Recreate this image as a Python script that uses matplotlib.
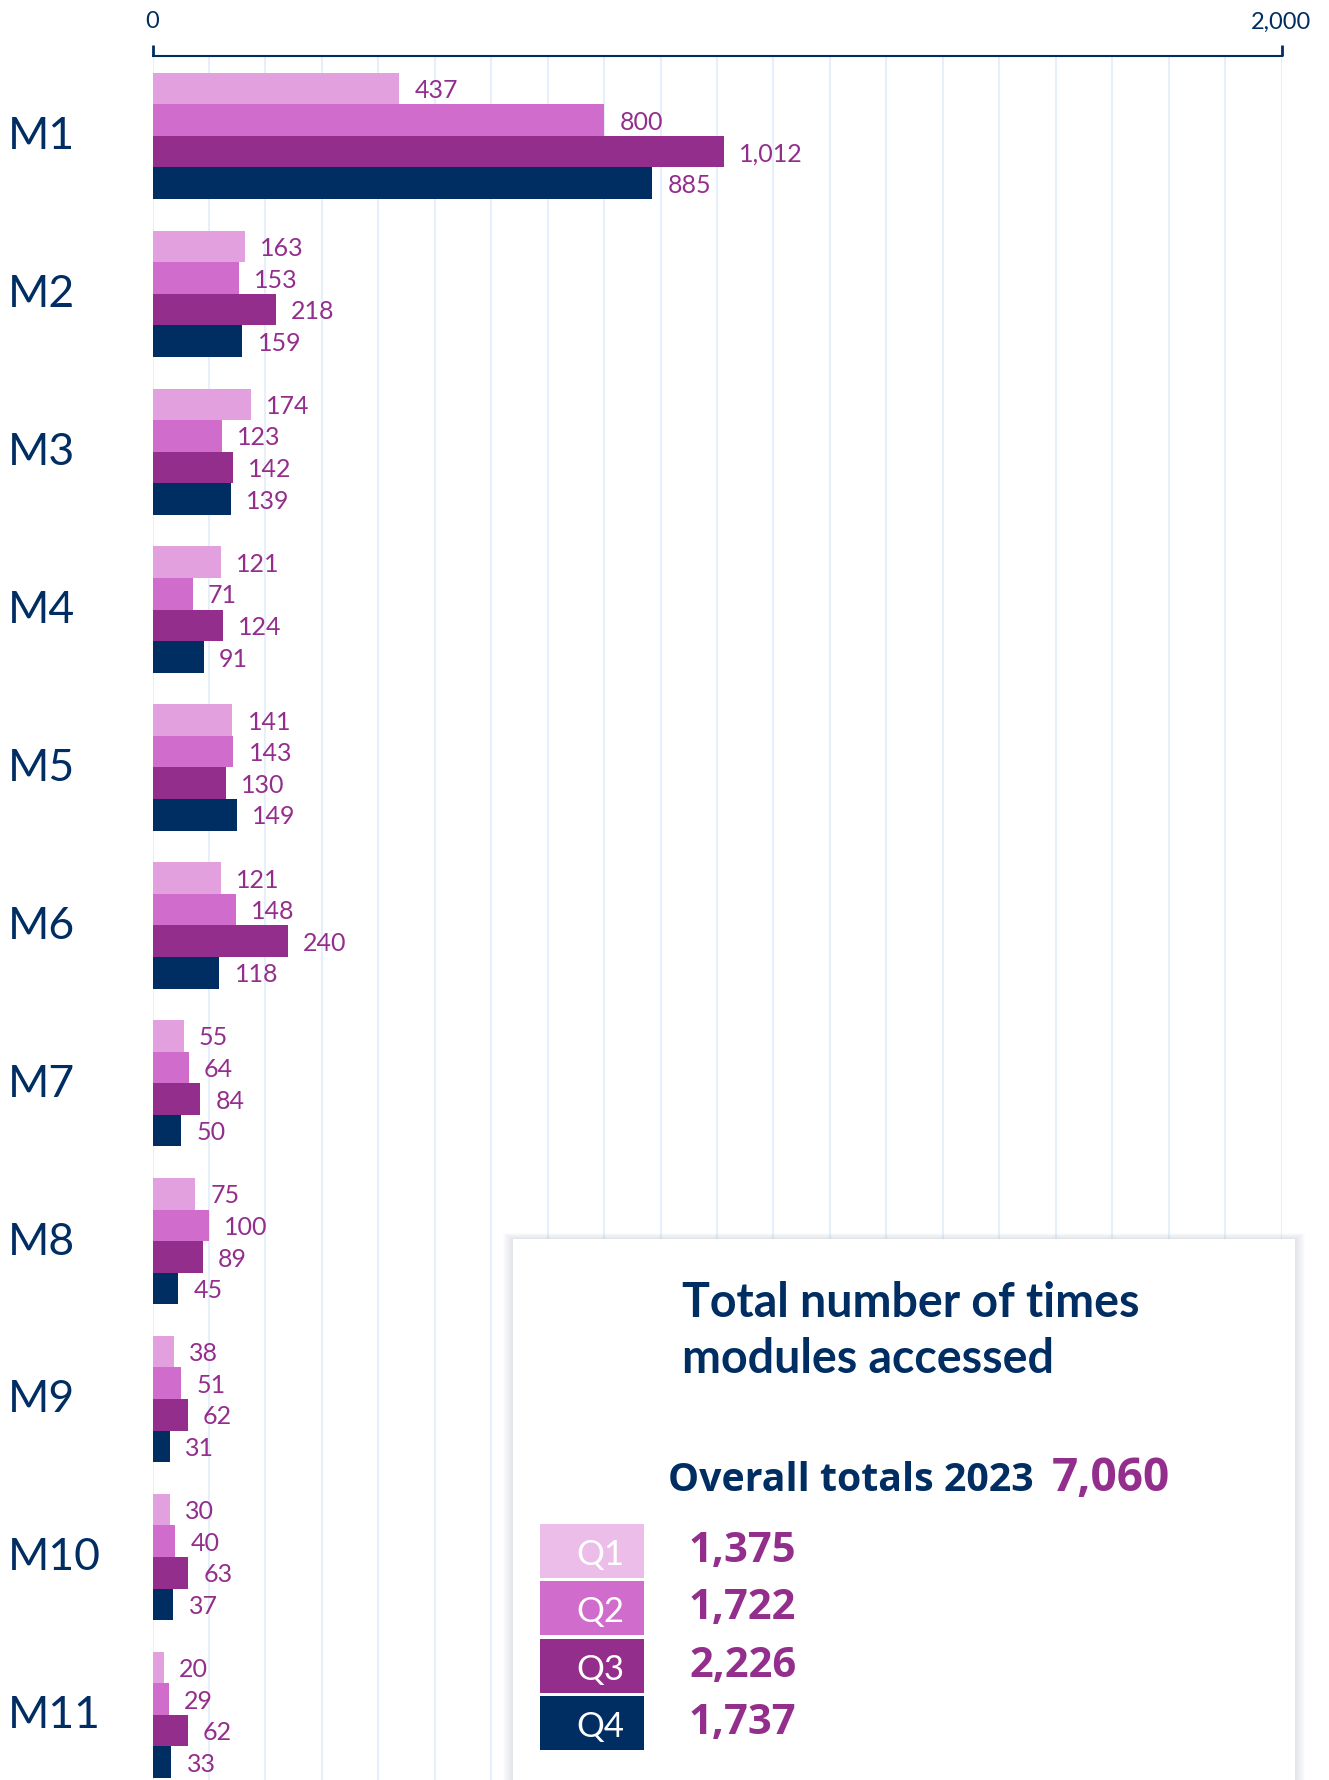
import numpy as np
import matplotlib.pyplot as plt
from matplotlib.patches import Rectangle

# Data
modules = ['M1', 'M2', 'M3', 'M4', 'M5', 'M6', 'M7', 'M8', 'M9', 'M10', 'M11']
quarters = ['Q1', 'Q2', 'Q3', 'Q4']
q1 = [437, 163, 174, 121, 141, 121, 55, 75, 38, 30, 20]
q2 = [800, 153, 123, 71, 143, 148, 64, 100, 51, 40, 29]
q3 = [1012, 218, 142, 124, 130, 240, 84, 89, 62, 63, 62]
q4 = [885, 159, 139, 91, 149, 118, 50, 45, 31, 37, 33]
xticks = [0, 2000]
xticklabels = ['0', '2,000']
year = 2023

# Colours
bar_colors = ['#e3a0de', '#d06ccc', '#942e8c', '#002d62']
legend_colors = ['#ecbde9', '#d06ccc', '#942e8c', '#002d62']
navy = '#002d62'
purple = '#942e8c'
grid_color = '#e6effa'

series = [q1, q2, q3, q4]
totals = [sum(s) for s in series]
overall = sum(totals)

W, H = 1329, 1780
fig = plt.figure(figsize=(W / 100, H / 100), dpi=100)

# Main bar axes (pixel placement from the reference)
ax_left, ax_right, ax_top = 152.6, 1281.5, 56
ax = fig.add_axes([ax_left / W, 0, (ax_right - ax_left) / W, (H - ax_top) / H])
unit = 31.58  # pixels per bar
ax.set_xlim(0, 2000)
ax.set_ylim((H - ax_top) / unit, 0)
start = (72.7 - ax_top) / unit

n = len(modules)
for q in range(4):
    ys = start + 5 * np.arange(n) + q + 0.5
    ax.barh(ys, series[q], height=1.0, color=bar_colors[q], linewidth=0, zorder=3)
    for y, v in zip(ys, series[q]):
        ax.annotate(f'{v:,}', xy=(v, y), xytext=(11, -1.5), textcoords='offset points',
                    va='center', ha='left', color=purple, fontsize=18, family='Lato', zorder=4)

# top axis
ax.xaxis.tick_top()
ax.set_xticks(xticks)
ax.set_xticklabels(xticklabels)
ax.set_xticks(np.arange(0, 2001, 100), minor=True)
ax.tick_params(axis='x', which='major', direction='out', length=8, width=2, color=navy,
               labelcolor=navy, labelsize=17, pad=9)
ax.tick_params(axis='x', which='minor', length=0)
for lab in ax.get_xticklabels():
    lab.set_family('Lato')
ax.grid(axis='x', which='both', color=grid_color, linewidth=1.5, zorder=0)
ax.set_axisbelow(True)

# module labels on the left
ax.set_yticks(start + 5 * np.arange(n) + 1.9)
ax.set_yticklabels(modules)
ax.tick_params(axis='y', length=0, pad=(ax_left - 8) * 0.72, labelsize=32, labelcolor=navy)
for lab in ax.get_yticklabels():
    lab.set_ha('left')
    lab.set_family('Lato')

for s in ['left', 'right', 'bottom']:
    ax.spines[s].set_visible(False)
ax.spines['top'].set_color(navy)
ax.spines['top'].set_linewidth(1.5)

# Overlay in pixel coordinates for the totals panel
ov = fig.add_axes([0, 0, 1, 1], zorder=10)
ov.set_xlim(0, W)
ov.set_ylim(H, 0)
ov.axis('off')
ov.patch.set_alpha(0)

px0, px1, py0 = 513, 1295, 1239
for i in range(10, 0, -1):
    ov.add_patch(Rectangle((px0 - i, py0 - i * 0.6), px1 - px0 + 2 * i, H, facecolor='#8a9bc0',
                           alpha=0.025, linewidth=0))
ov.add_patch(Rectangle((px0, py0), px1 - px0, H, facecolor='white', linewidth=0))

ov.text(682, 1317, 'Total number of times', color=navy, fontsize=33.5, fontweight='bold',
        family='Lato', va='baseline', ha='left')
ov.text(682, 1373, 'modules accessed', color=navy, fontsize=33.5, fontweight='bold',
        family='Lato', va='baseline', ha='left')

ov.text(668, 1491, f'Overall totals {year}', color=navy, fontsize=28.3, fontweight='bold',
        family='Open Sans', va='baseline', ha='left')
ov.text(1052, 1491, f'{overall:,}', color=purple, fontsize=33, fontweight='bold',
        family='Open Sans', va='baseline', ha='left')

sw_top, sw_pitch, sw_h = 1524, 57.3, 54
for i, (qname, tot) in enumerate(zip(quarters, totals)):
    top = sw_top + i * sw_pitch
    ov.add_patch(Rectangle((540, top), 104, sw_h, facecolor=legend_colors[i], linewidth=0))
    ov.text(600, top + 41, qname, color='white', fontsize=25, family='Lato',
            va='baseline', ha='center')
    ov.text(689, top + 38, f'{tot:,}', color=purple, fontsize=30, fontweight='bold',
            family='Open Sans', va='baseline', ha='left')

fig.savefig('out.png', dpi=100, facecolor='white')
